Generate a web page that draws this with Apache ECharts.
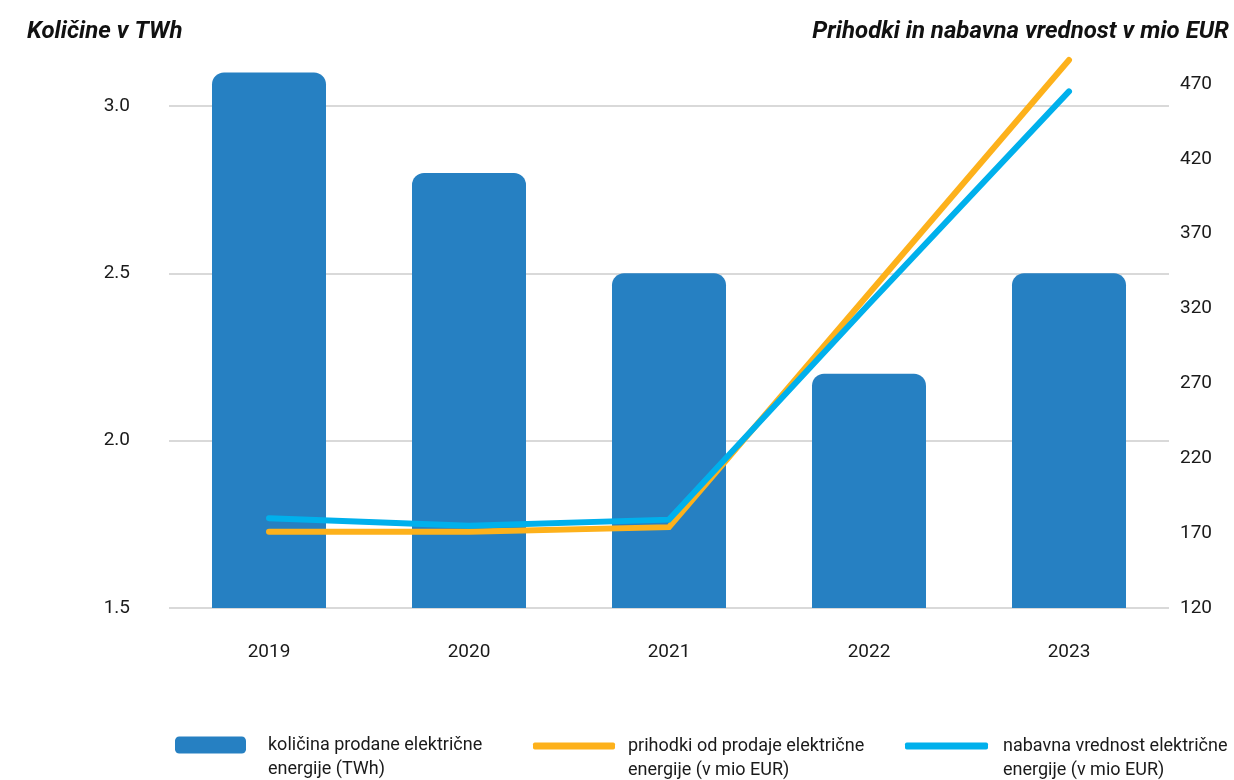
<!DOCTYPE html>
<html>
<head>
<meta charset="utf-8">
<script src="https://cdn.jsdelivr.net/npm/echarts@6/dist/echarts.min.js"></script>
<style>
html,body{margin:0;padding:0;background:#fff;}
#chart{width:1234px;height:780px;}
</style>
</head>
<body>
<div id="chart"></div>
<script>
const years = ['2019', '2020', '2021', '2022', '2023'];
const quantityTWh = [3.1, 2.8, 2.5, 2.2, 2.5];
const revenueMioEur = [171, 171, 174, 330, 486];
const costMioEur = [180, 175, 179, 323, 465];
const leftTitle = 'Količine v TWh';
const rightTitle = 'Prihodki in nabavna vrednost v mio EUR';
const nameBar = 'količina prodane električne energije (TWh)';
const nameRevenue = 'prihodki od prodaje električne energije (v mio EUR)';
const nameCost = 'nabavna vrednost električne energije (v mio EUR)';

const FONT = 'Roboto, "Noto Sans", sans-serif';
const chart = echarts.init(document.getElementById('chart'), null, {renderer: 'canvas'});

function legendFmt(name) {
  const i = name.indexOf(' energije');
  return '\n{t|' + name.slice(0, i) + '}\n{t|' + name.slice(i + 1) + '}';
}
function legendText(padLeft) {
  return {
    fontFamily: FONT, fontSize: 18, color: '#1a1a1a', lineHeight: 24,
    rich: {t: {fontFamily: FONT, fontSize: 18, color: '#1a1a1a', lineHeight: 24, padding: [0, 0, 0, padLeft]}}
  };
}

chart.setOption({
  animation: false,
  backgroundColor: '#ffffff',
  title: [
    {text: leftTitle, left: 22, top: 15, textStyle: {fontFamily: FONT, fontSize: 24, fontWeight: 'bold', fontStyle: 'italic', color: '#111'}},
    {text: rightTitle, right: 0, top: 15, textStyle: {fontFamily: FONT, fontSize: 24, fontWeight: 'bold', fontStyle: 'italic', color: '#111'}}
  ],
  grid: {left: 169, right: 65, top: 39, bottom: 172},
  legend: [
    {data: [{name: nameBar, icon: 'roundRect'}], left: 170, top: 704, itemWidth: 71, itemHeight: 17, itemGap: 0,
     formatter: legendFmt, textStyle: legendText(17), selectedMode: false},
    {data: [{name: nameRevenue, icon: 'roundRect'}], left: 528, top: 705, itemWidth: 82, itemHeight: 7, itemGap: 0,
     formatter: legendFmt, textStyle: legendText(8), selectedMode: false},
    {data: [{name: nameCost, icon: 'roundRect'}], left: 900, top: 705, itemWidth: 83, itemHeight: 7, itemGap: 0,
     formatter: legendFmt, textStyle: legendText(10), selectedMode: false}
  ],
  xAxis: {
    type: 'category',
    data: years,
    axisLine: {show: false},
    axisTick: {show: false},
    axisLabel: {fontFamily: FONT, fontSize: 19, color: '#1a1a1a', margin: 35}
  },
  yAxis: [
    {
      type: 'value', min: 1.5, max: 3.2, interval: 0.5, position: 'left',
      axisLine: {show: false}, axisTick: {show: false},
      axisLabel: {fontFamily: FONT, fontSize: 19, color: '#1a1a1a', margin: 39, showMaxLabel: false,
        formatter: v => v.toFixed(1)},
      splitLine: {show: true, showMaxLine: false, lineStyle: {color: '#d9d9d9', width: 2}}
    },
    {
      type: 'value', min: 120, max: 500, interval: 50, position: 'right',
      axisLine: {show: false}, axisTick: {show: false},
      axisLabel: {fontFamily: FONT, fontSize: 19, color: '#1a1a1a', margin: 11, showMaxLabel: false},
      splitLine: {show: false}
    }
  ],
  series: [
    {
      name: nameBar, type: 'bar', data: quantityTWh, yAxisIndex: 0,
      barWidth: 114,
      itemStyle: {color: '#2680c2', borderRadius: [12, 12, 0, 0]},
      z: 1
    },
    {
      name: nameCost, type: 'line', data: costMioEur, yAxisIndex: 1,
      showSymbol: false, symbol: 'none',
      itemStyle: {color: '#00b0ec'},
      lineStyle: {color: '#00b0ec', width: 6, cap: 'round', join: 'miter'},
      z: 3
    },
    {
      name: nameRevenue, type: 'line', data: revenueMioEur, yAxisIndex: 1,
      showSymbol: false, symbol: 'none',
      itemStyle: {color: '#fdb11b'},
      lineStyle: {color: '#fdb11b', width: 6, cap: 'round', join: 'miter'},
      z: 2
    }
  ]
});
</script>
</body>
</html>
